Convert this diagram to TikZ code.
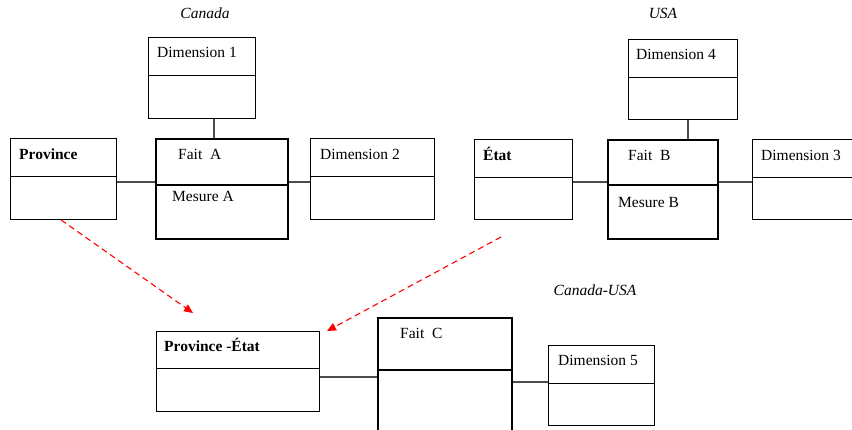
\documentclass[tikz,border=0pt]{standalone}
\usepackage{fontspec}
\setmainfont{Liberation Serif}
\usetikzlibrary{arrows.meta}
\begin{document}
\begin{tikzpicture}[x=1pt,y=-1pt,
  font=\fontsize{15.5}{18}\selectfont,
  tbl/.style={draw, line width=0.9pt, rectangle, anchor=north west, inner sep=0pt},
  facttbl/.style={draw, line width=1.9pt, rectangle, anchor=north west, inner sep=0pt},
  sep/.style={line width=0.9pt},
  factsep/.style={line width=1.9pt},
  link/.style={draw=black!70, line width=1.2pt},
  lbl/.style={anchor=base west, inner sep=0pt},
  title/.style={anchor=base, inner sep=0pt, font=\fontsize{15.5}{18}\selectfont\itshape},
  derive/.style={draw=red, line width=1.1pt, dash pattern=on 6pt off 4pt,
    -{Triangle[length=9pt,width=8pt]}}]
\useasboundingbox (0,0) rectangle (852,430);

% --- Canada ---
\node[title] (tca) at (205,19) {Canada};
\node[tbl, minimum width=107pt, minimum height=81pt] (d1) at (148,37) {};
\draw[sep] (d1.west |- 0,75) -- (d1.east |- 0,75);
\node[lbl] (td1) at (157,58) {Dimension 1};

\node[facttbl, minimum width=132pt, minimum height=100pt] (fa) at (155,138) {};
\draw[factsep] (fa.west |- 0,185) -- (fa.east |- 0,185);
\node[lbl] (tfa) at (178,160) {Fait\ \ A};
\node[lbl] (tma) at (172,202) {Mesure A};

\node[tbl, minimum width=106pt, minimum height=81pt] (prov) at (10,138) {};
\draw[sep] (prov.west |- 0,176) -- (prov.east |- 0,176);
\node[lbl, font=\fontsize{15.5}{18}\selectfont\bfseries] (tprov) at (19,160) {Province};

\node[tbl, minimum width=124pt, minimum height=81pt] (d2) at (310,138) {};
\draw[sep] (d2.west |- 0,176) -- (d2.east |- 0,176);
\node[lbl] (td2) at (320,160) {Dimension 2};

\draw[link] (d1.south -| 214,0) -- (fa.north -| 214,0);
\draw[link] (prov.east |- 0,182) -- (fa.west |- 0,182);
\draw[link] (fa.east |- 0,182) -- (d2.west |- 0,182);

% --- USA ---
\node[title] (tus) at (663,19) {USA};
\node[tbl, minimum width=109pt, minimum height=80pt] (d4) at (628,39) {};
\draw[sep] (d4.west |- 0,77) -- (d4.east |- 0,77);
\node[lbl] (td4) at (636,60) {Dimension 4};

\node[facttbl, minimum width=110pt, minimum height=99pt] (fb) at (607,139) {};
\draw[factsep] (fb.west |- 0,185) -- (fb.east |- 0,185);
\node[lbl] (tfb) at (628,161) {Fait\ \ B};
\node[lbl] (tmb) at (618,208) {Mesure B};

\node[tbl, minimum width=98pt, minimum height=80pt] (etat) at (474,139) {};
\draw[sep] (etat.west |- 0,177) -- (etat.east |- 0,177);
\node[lbl, font=\fontsize{15.5}{18}\selectfont\bfseries] (tetat) at (483,161) {État};

\node[tbl, minimum width=110pt, minimum height=80pt] (d3) at (752,139) {};
\draw[sep] (d3.west |- 0,177) -- (d3.east |- 0,177);
\node[lbl] (td3) at (761,161) {Dimension 3};

\draw[link] (d4.south -| 688,0) -- (fb.north -| 688,0);
\draw[link] (etat.east |- 0,182) -- (fb.west |- 0,182);
\draw[link] (fb.east |- 0,182) -- (d3.west |- 0,182);

% --- Canada-USA ---
\node[title] (tcu) at (595,296) {Canada-USA};
\node[tbl, minimum width=163pt, minimum height=80pt] (pe) at (156,331) {};
\draw[sep] (pe.west |- 0,368) -- (pe.east |- 0,368);
\node[lbl, font=\fontsize{15.5}{18}\selectfont\bfseries] (tpe) at (164,352) {Province -État};

\node[facttbl, minimum width=134pt, minimum height=130pt] (fc) at (377,317) {};
\draw[factsep] (fc.west |- 0,370) -- (fc.east |- 0,370);
\node[lbl] (tfc) at (400,339) {Fait\ \ C};

\node[tbl, minimum width=106pt, minimum height=80pt] (d5) at (548,345) {};
\draw[sep] (d5.west |- 0,383) -- (d5.east |- 0,383);
\node[lbl] (td5) at (558,366) {Dimension 5};

\draw[link] (pe.east |- 0,377) -- (fc.west |- 0,377);
\draw[link] (fc.east |- 0,382) -- (d5.west |- 0,382);

% --- derivation of the shared dimension ---
\coordinate (endp) at (193,313);
\coordinate (starte) at (501,237);
\coordinate (ende) at (327,331);
\draw[derive] (prov.south -| 61,0) -- (endp);
\draw[derive] (starte) -- (ende);
\end{tikzpicture}
\end{document}
